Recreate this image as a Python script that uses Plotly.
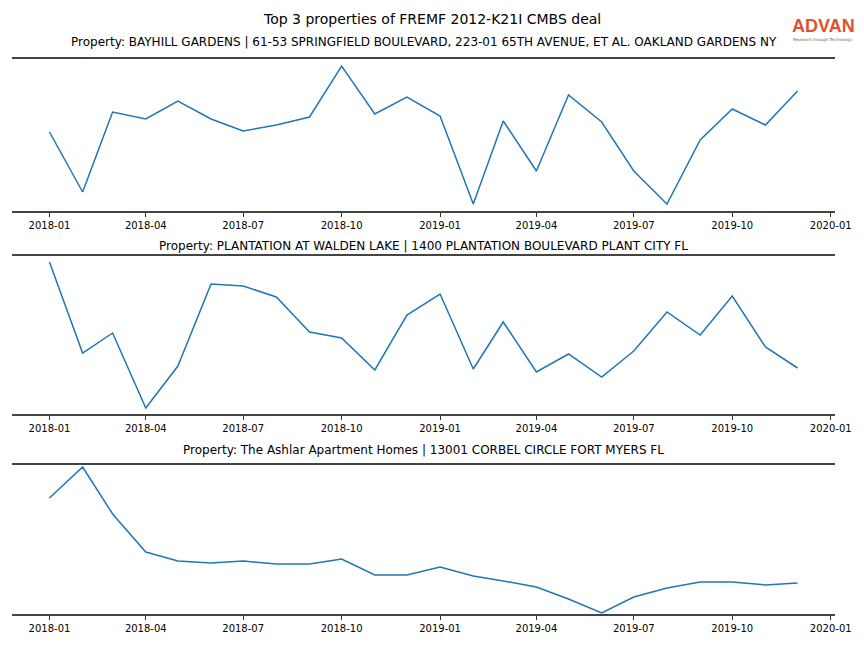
import plotly.graph_objects as go
import pandas as pd

months = pd.date_range("2018-01-01", "2019-12-01", freq="MS")

title_main = "Top 3 properties of FREMF 2012-K21I CMBS deal"
titles = [
    "Property: BAYHILL GARDENS | 61-53 SPRINGFIELD BOULEVARD, 223-01 65TH AVENUE, ET AL. OAKLAND GARDENS NY",
    "Property: PLANTATION AT WALDEN LAKE | 1400 PLANTATION BOULEVARD PLANT CITY FL",
    "Property: The Ashlar Apartment Homes | 13001 CORBEL CIRCLE FORT MYERS FL",
]

bayhill = [79, 19, 99, 92, 110, 92, 80, 86, 94, 145, 97, 114,
           95, 7, 90, 40, 116, 89, 40, 7, 71, 102, 86, 120]
plantation = [152, 61, 81, 6, 48, 130, 128, 117, 82, 76, 44, 99,
              120, 45, 92, 42, 60, 37, 63, 102, 79, 118, 67, 46]
ashlar = [116, 147, 100, 62, 53, 51, 53, 50, 50, 55, 39, 39,
          47, 38, 33, 27, 15, 1, 17, 26, 32, 32, 29, 31]

series = [bayhill, plantation, ashlar]

# page has an 8px body margin; size the figure so the page does not overflow
OFF = 8
W, H = 864 - 2 * OFF, 648 - 2 * OFF


def px(x):
    return (x - OFF) / W


def py(y):
    return 1 - (y - OFF) / H


panels = [(59, 211), (256, 414), (465, 614)]
title_y = [42, 246, 450]
yranges = [[0, 152], [0, 158], [0, 149]]
x0, x1 = 12, 835

fig = go.Figure()
for i, vals in enumerate(series):
    n = "" if i == 0 else str(i + 1)
    fig.add_trace(go.Scatter(x=months, y=vals, mode="lines",
                             line=dict(color="#1f77b4", width=1.5),
                             xaxis="x" + n, yaxis="y" + n, showlegend=False))
    top, bot = panels[i]
    fig.layout["xaxis" + n] = dict(
        domain=[px(x0), px(x1)], anchor="y" + n, automargin=False,
        range=["2017-11-27", "2020-01-05"],
        tick0="2018-01-01", dtick="M3", tickformat="%Y-%m",
        ticks="outside", ticklen=4, tickwidth=1, tickcolor="#333",
        showline=True, mirror=True, linecolor="#444", linewidth=1.5,
        showgrid=False, zeroline=False,
        tickfont=dict(family="DejaVu Sans", size=10, color="#000"),
    )
    fig.layout["yaxis" + n] = dict(
        domain=[py(bot), py(top)], anchor="x" + n, automargin=False,
        range=yranges[i], showticklabels=False, ticks="",
        showgrid=False, zeroline=False, showline=False,
    )
    fig.add_annotation(text=titles[i], x=px((x0 + x1) / 2), y=py(title_y[i]),
                       xref="paper", yref="paper", showarrow=False,
                       xanchor="center", yanchor="middle",
                       font=dict(family="DejaVu Sans", size=12, color="#000"))

fig.add_annotation(text=title_main, x=px(432), y=py(19), xref="paper", yref="paper",
                   showarrow=False, xanchor="center", yanchor="middle",
                   font=dict(family="DejaVu Sans", size=14, color="#000"))
fig.add_annotation(text="<b>ADVAN</b>", x=px(823), y=py(26), xref="paper", yref="paper",
                   showarrow=False, xanchor="center", yanchor="middle",
                   font=dict(family="Liberation Sans", size=18, color="#e0522d"))
fig.add_annotation(text="Research through Technology", x=px(823), y=py(39),
                   xref="paper", yref="paper", showarrow=False,
                   xanchor="center", yanchor="middle",
                   font=dict(family="DejaVu Sans", size=4, color="#666"))

fig.update_layout(width=W, height=H, autosize=False,
                  margin=dict(l=0, r=0, t=0, b=0),
                  plot_bgcolor="white", paper_bgcolor="white")
fig.write_html("out.html", config={"responsive": False, "displayModeBar": False})
